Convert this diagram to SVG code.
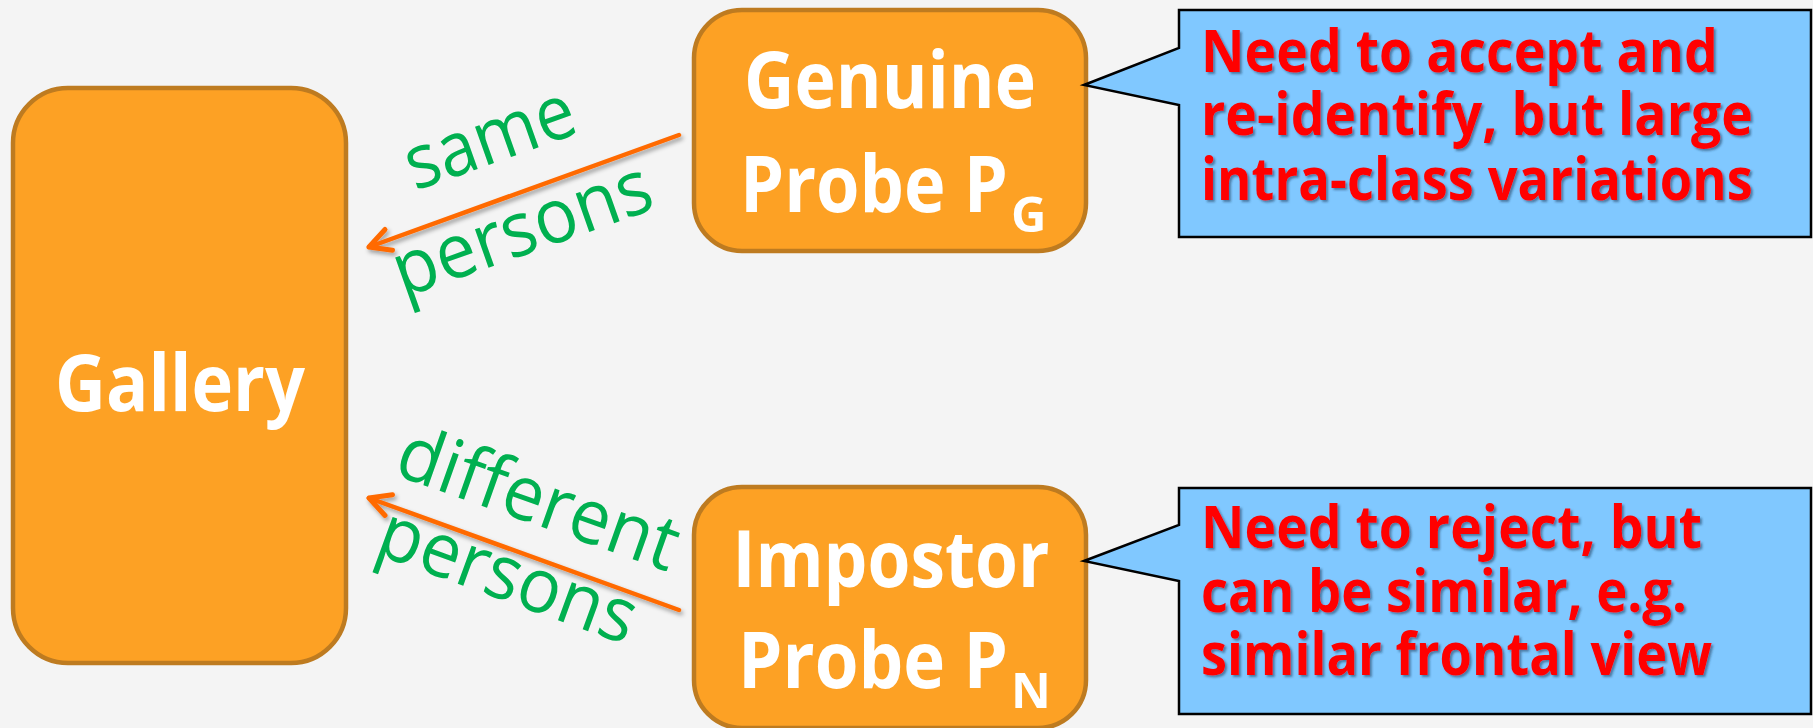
<svg xmlns="http://www.w3.org/2000/svg" width="1813" height="728" viewBox="0 0 1813 728">
  <defs>
    <style>
      .box { fill: #FDA124; stroke: #BE7B20; stroke-width: 4.5; }
      .boxlabel { font-family: "Open Sans", "Noto Sans", "Liberation Sans", sans-serif; font-weight: bold; fill: #FFFFFF; }
      .callout { fill: #80C8FF; stroke: #000000; stroke-width: 2.5; stroke-linejoin: miter; }
      .note { font-family: "Open Sans", "Noto Sans", "Liberation Sans", sans-serif; font-weight: bold; font-size: 59px; fill: #FF0000; }
      .edge { fill: none; stroke: #FF6A00; stroke-width: 4.5; stroke-linecap: round; }
      .edgelabel { font-family: "Open Sans", "Noto Sans", "Liberation Sans", sans-serif; font-size: 76px; fill: #00B050; }
    </style>
    <marker id="arrowOpen" markerUnits="userSpaceOnUse" viewBox="-26 -15 30 30" refX="0" refY="0" markerWidth="30" markerHeight="30" orient="auto">
      <path d="M-21,-11 L0,0 L-21,11" fill="none" stroke="#FF6A00" stroke-width="5" stroke-linecap="round" stroke-linejoin="round"/>
    </marker>
    <!-- soft drop shadow for the red note text -->
    <filter id="textShadow" filterUnits="userSpaceOnUse" x="0" y="0" width="1813" height="728">
      <feDropShadow dx="2" dy="2" stdDeviation="1.2" flood-color="#1F3A5A" flood-opacity="0.55"/>
    </filter>
    <!-- soft drop shadow for the arrows -->
    <filter id="lineShadow" filterUnits="userSpaceOnUse" x="0" y="0" width="1813" height="728">
      <feDropShadow dx="2" dy="3" stdDeviation="2" flood-color="#000000" flood-opacity="0.35"/>
    </filter>
  </defs>

  <rect width="1813" height="728" fill="#F4F4F4"/>

  <!-- connectors: probe -> gallery -->
  <g id="connectors">
    <g filter="url(#lineShadow)">
      <line class="edge" x1="679" y1="135" x2="369" y2="247" marker-end="url(#arrowOpen)"/>
      <line class="edge" x1="679" y1="610" x2="369" y2="498" marker-end="url(#arrowOpen)"/>
    </g>
    <text class="edgelabel" transform="translate(415,191) rotate(-19.5)" textLength="176" lengthAdjust="spacingAndGlyphs">same</text>
    <text class="edgelabel" transform="translate(403,298) rotate(-19.5)" textLength="270" lengthAdjust="spacingAndGlyphs">persons</text>
    <text class="edgelabel" transform="translate(392,474) rotate(19.5)" textLength="293" lengthAdjust="spacingAndGlyphs">different</text>
    <text class="edgelabel" transform="translate(373,553) rotate(20)" textLength="269" lengthAdjust="spacingAndGlyphs">persons</text>
  </g>

  <!-- gallery -->
  <g id="gallery">
    <rect class="box" x="13" y="88" width="333" height="575" rx="55" ry="55"/>
    <text class="boxlabel" x="180" y="411" font-size="79" text-anchor="middle" textLength="250" lengthAdjust="spacingAndGlyphs">Gallery</text>
  </g>

  <!-- genuine probe -->
  <g id="genuine-probe">
    <rect class="box" x="694" y="10" width="392" height="241" rx="48" ry="48"/>
    <text class="boxlabel" x="890" y="108" font-size="78" text-anchor="middle" textLength="292" lengthAdjust="spacingAndGlyphs">Genuine</text>
    <text class="boxlabel" font-size="78"><tspan x="740" y="212" textLength="268" lengthAdjust="spacingAndGlyphs">Probe P</tspan><tspan x="1011" y="232" font-size="49">G</tspan></text>
  </g>

  <!-- impostor probe -->
  <g id="impostor-probe">
    <rect class="box" x="694" y="487" width="392" height="241" rx="48" ry="48"/>
    <text class="boxlabel" x="891" y="587" font-size="78" text-anchor="middle" textLength="317" lengthAdjust="spacingAndGlyphs">Impostor</text>
    <text class="boxlabel" font-size="78"><tspan x="738" y="688" textLength="270" lengthAdjust="spacingAndGlyphs">Probe P</tspan><tspan x="1011" y="708" font-size="49">N</tspan></text>
  </g>

  <!-- note on genuine probe -->
  <g id="genuine-note">
    <path class="callout" d="M1179,10 H1811 V237 H1179 V105 L1084,85 L1179,48 Z"/>
    <g class="note" filter="url(#textShadow)">
      <text x="1201" y="72" textLength="517" lengthAdjust="spacingAndGlyphs">Need to accept and</text>
      <text x="1201" y="135" textLength="552" lengthAdjust="spacingAndGlyphs">re-identify, but large</text>
      <text x="1201" y="200" textLength="552" lengthAdjust="spacingAndGlyphs">intra-class variations</text>
    </g>
  </g>

  <!-- note on impostor probe -->
  <g id="impostor-note">
    <path class="callout" d="M1179,488 H1811 V714 H1179 V581 L1084,561 L1179,525 Z"/>
    <g class="note" filter="url(#textShadow)">
      <text x="1201" y="548" textLength="501" lengthAdjust="spacingAndGlyphs">Need to reject, but</text>
      <text x="1201" y="612" textLength="486" lengthAdjust="spacingAndGlyphs">can be similar, e.g.</text>
      <text x="1201" y="675" textLength="511" lengthAdjust="spacingAndGlyphs">similar frontal view</text>
    </g>
  </g>
</svg>
